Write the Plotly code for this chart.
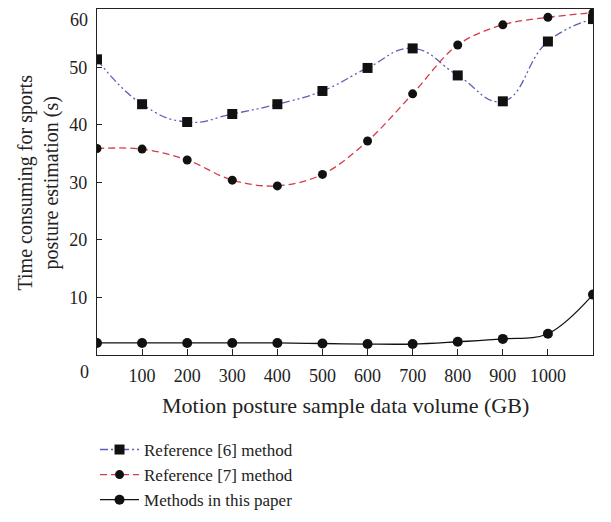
import plotly.graph_objects as go

volume = [0, 100, 200, 300, 400, 500, 600, 700, 800, 900, 1000, 1100]
ref6 = [51.4, 43.6, 40.5, 41.9, 43.6, 45.9, 49.9, 53.3, 48.6, 44.1, 54.5, 58.4]
ref7 = [35.9, 35.8, 33.9, 30.4, 29.4, 31.4, 37.2, 45.4, 53.9, 57.4, 58.7, 59.5]
ours = [2.1, 2.1, 2.1, 2.1, 2.1, 2.0, 1.9, 1.9, 2.3, 2.8, 3.7, 10.5]
xtick_vals = [100, 200, 300, 400, 500, 600, 700, 800, 900, 1000]
ytick_vals = [10, 20, 30, 40, 50, 60]
ytick_labels = ["10", "20", "30", "40", "50", "60"]
x_title = "Motion posture sample data volume (GB)"
y_title = "Time consuming for sports<br>posture estimation (s)"

FONT = "Liberation Serif"
TXT = "#222222"

fig = go.Figure()
fig.add_trace(go.Scatter(
    x=volume, y=ref6, name="Reference [6] method", mode="lines+markers",
    line=dict(color="#5b5fb5", width=1.3, shape="spline", smoothing=1.3,
              dash="8px,3px,2px,3px,2px,3px"),
    marker=dict(symbol="square", size=10, color="#111111"),
))
fig.add_trace(go.Scatter(
    x=volume, y=ref7, name="Reference [7] method", mode="lines+markers",
    line=dict(color="#d63a47", width=1.3, shape="spline", smoothing=1.0,
              dash="7px,4px"),
    marker=dict(symbol="circle", size=9, color="#111111"),
))
fig.add_trace(go.Scatter(
    x=volume, y=ours, name="Methods in this paper", mode="lines+markers",
    line=dict(color="#111111", width=1.3, shape="spline", smoothing=1.0),
    marker=dict(symbol="circle", size=10, color="#111111"),
))

# the page body has an 8px default margin, so the figure is sized to fit the window
fig.update_layout(
    width=603, height=514,
    margin=dict(l=89, r=18, t=1, b=167),
    plot_bgcolor="white", paper_bgcolor="white",
    font=dict(family=FONT, size=20, color=TXT),
    showlegend=True,
    legend=dict(x=-0.004, y=-0.471, xanchor="left", yanchor="bottom",
                font=dict(family=FONT, size=17, color=TXT),
                tracegroupgap=0, itemwidth=39, bgcolor="rgba(0,0,0,0)"),
    xaxis=dict(range=[0, 1100], tickvals=xtick_vals, ticks="inside", ticklen=6,
               tickcolor=TXT, showline=True, linecolor=TXT, linewidth=1.3,
               mirror=True, showgrid=False, zeroline=False, automargin=False,
               ticklabelstandoff=4,
               tickfont=dict(family=FONT, size=18, color=TXT)),
    yaxis=dict(range=[0, 60.15], tickvals=ytick_vals,
               ticktext=ytick_labels[:-1] + [""], ticks="inside", ticklen=5,
               tickcolor=TXT, showline=True, linecolor=TXT, linewidth=1.3,
               mirror=True, showgrid=False, zeroline=False, automargin=False,
               ticklabelstandoff=5,
               tickfont=dict(family=FONT, size=18, color=TXT)),
)
# top y label kept fully inside the page
fig.add_annotation(x=0, y=1, xref="paper", yref="paper", text=ytick_labels[-1],
                   showarrow=False, xanchor="right", yanchor="top",
                   xshift=-7, yshift=1, font=dict(family=FONT, size=18, color=TXT))
# axis titles
fig.add_annotation(x=0.5, y=-0.145, xref="paper", yref="paper", text=x_title,
                   showarrow=False, xanchor="center", yanchor="middle",
                   font=dict(family=FONT, size=22, color=TXT))
fig.add_annotation(x=-0.118, y=0.5, xref="paper", yref="paper", text=y_title,
                   showarrow=False, xanchor="center", yanchor="middle", textangle=-90,
                   font=dict(family=FONT, size=20, color=TXT))
# origin label
fig.add_annotation(x=0, y=0, xref="paper", yref="paper", text="0", showarrow=False,
                   xanchor="center", yanchor="middle",
                   xshift=-13, yshift=-17, font=dict(family=FONT, size=18, color=TXT))

fig.write_html("out.html")
